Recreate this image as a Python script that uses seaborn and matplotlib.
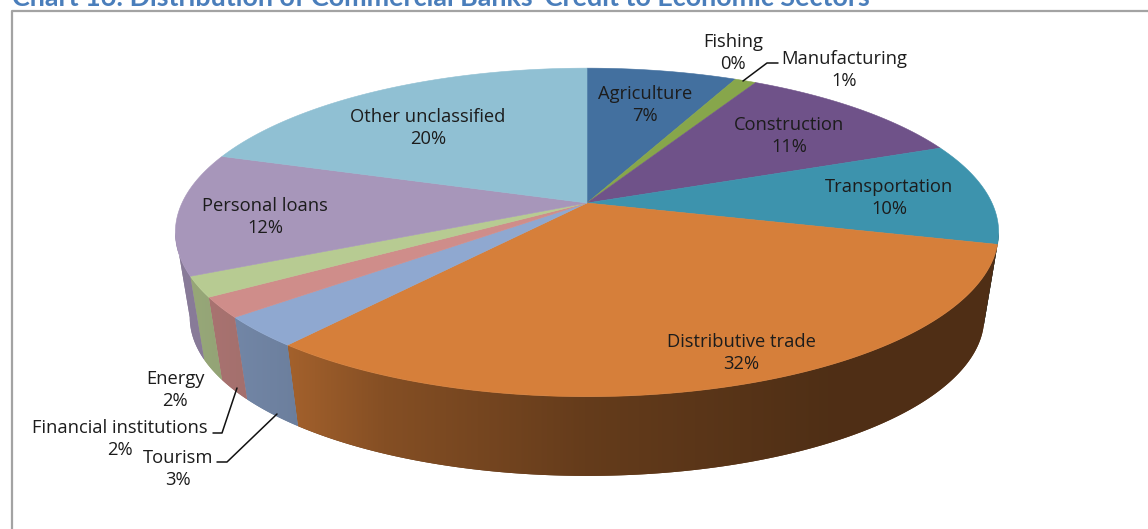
import numpy as np
import matplotlib
matplotlib.use("Agg")
import matplotlib.pyplot as plt
from matplotlib.patches import Polygon
import seaborn as sns

# Shares of credit by sector, clockwise from twelve o'clock
sectors = ["Agriculture", "Fishing", "Manufacturing", "Construction", "Transportation",
           "Distributive trade", "Tourism", "Financial institutions", "Energy",
           "Personal loans", "Other unclassified"]
shares = [7, 0, 1, 11, 10, 32, 3, 2, 2, 12, 20]
face_colors = ["#43709f", "#7f7f7f", "#87a64b", "#6f5289", "#3d93ad", "#d67f3a",
               "#8fa8d0", "#cf8d8a", "#b7cb92", "#a796ba", "#90c0d3"]

title = "Chart 16: Distribution of Commercial Banks' Credit to Economic Sectors"

# Label anchor points and leader lines, in figure pixels
label_xy = {"Agriculture": (645, 105), "Fishing": (733, 53), "Manufacturing": (844, 70),
            "Construction": (789, 136), "Transportation": (889, 198),
            "Distributive trade": (741, 353), "Tourism": (178, 469),
            "Financial institutions": (120, 439), "Energy": (175, 390),
            "Personal loans": (265, 217), "Other unclassified": (428, 128)}
leaders = [([743, 767, 778], [81, 63, 63]),
           ([237, 222, 213], [388, 433, 433]),
           ([277, 227, 217], [414, 462, 462])]

W, H = 1148, 529
CX, CY = 587.0, 203.0       # projected pie centre
SX, SY, TILT = 405.0, 159.0, 0.179   # perspective of the disc
DROP, SHRINK = 86.0, 0.965  # offset and scale of the lower rim
LINE_GAP = 10.8             # half the distance between a label's two lines

# Wall brightness across the figure: lit on the left, in shadow on the right
SHADE_X = [180, 202, 290, 384, 587, 827, 1000]
SHADE_F = [0.82, 0.82, 0.76, 0.62, 0.47, 0.37, 0.37]

# The wall faces the viewer only between the rim's two widest points
FRONT_START = 90 + np.degrees(np.arcsin(TILT))
FRONT_STOP = 270 - np.degrees(np.arcsin(TILT))


def rim(theta, lower=False):
    """Project clockwise angles (degrees from north) to the disc's rim."""
    t = np.radians(theta)
    x, y = np.sin(t), np.cos(t)
    w = 1 + TILT * y
    k = SHRINK if lower else 1.0
    return CX + k * SX * x / w, CY - k * SY * y / w + (DROP if lower else 0.0)


sns.set_theme(style="white")
plt.rcParams["font.family"] = ["Open Sans", "DejaVu Sans"]
palette = sns.color_palette(face_colors)

fig = plt.figure(figsize=(W / 100, H / 100), dpi=100, facecolor="white")
ax = fig.add_axes([0, 0, 1, 1])
ax.axis("off")

edges = np.concatenate([[0], np.cumsum(shares)]) * 3.6

# Outer wall: a horizontal brightness ramp clipped to each slice's side panel
for start, stop, color in zip(edges[:-1], edges[1:], palette):
    lo, hi = max(start, FRONT_START), min(stop, FRONT_STOP)
    if hi <= lo:
        continue
    arc = np.linspace(lo, hi, max(int(hi - lo) * 2, 6))
    xa, ya = rim(arc)
    xb, yb = rim(arc[::-1], lower=True)
    outline = np.c_[np.r_[xa, xb], np.r_[ya, yb]]
    x0, x1 = outline[:, 0].min(), outline[:, 0].max()
    y0, y1 = outline[:, 1].min(), outline[:, 1].max()
    columns = np.linspace(x0, x1, max(int(x1 - x0), 2))
    ramp = np.interp(columns, SHADE_X, SHADE_F)[None, :, None] * np.array(color)[None, None, :]
    panel = Polygon(outline, closed=True, facecolor=tuple(ramp[0, ramp.shape[1] // 2]),
                    edgecolor="none", zorder=1.5)
    ax.add_patch(panel)
    img = ax.imshow(ramp, extent=(x0, x1, y1, y0), aspect="auto", zorder=2,
                    interpolation="bilinear")
    img.set_clip_path(panel)

# Top face of the pie
for start, stop, color in zip(edges[:-1], edges[1:], palette):
    if stop == start:
        continue
    arc = np.linspace(start, stop, max(int(stop - start) * 2, 4))
    x, y = rim(arc)
    ax.add_patch(Polygon(np.c_[np.r_[CX, x], np.r_[CY, y]], closed=True,
                         facecolor=color, edgecolor=color, linewidth=0.4, zorder=3))

# Data labels and leaders
for name, value in zip(sectors, shares):
    lx, ly = label_xy[name]
    style = dict(ha="center", va="center", fontsize=13.2, color="#1c1c1c", zorder=5)
    ax.text(lx, ly - LINE_GAP, name, **style)
    ax.text(lx, ly + LINE_GAP, f"{value}%", **style)
for xs, ys in leaders:
    ax.plot(xs, ys, color="#111111", lw=1.1, zorder=4)

# Panel frame and heading running across the top edge
ax.plot([12, 12, W], [H, 10.5, 10.5], color="#a3a3a3", lw=1.6, zorder=1, clip_on=False)
ax.text(12, 6, title, ha="left", va="baseline", fontsize=19.35, fontweight="bold",
        family=["Lato", "DejaVu Sans"], color="#4a7ebb", zorder=5)

ax.set_xlim(0, W)
ax.set_ylim(H, 0)
fig.savefig("out.png", dpi=100)
